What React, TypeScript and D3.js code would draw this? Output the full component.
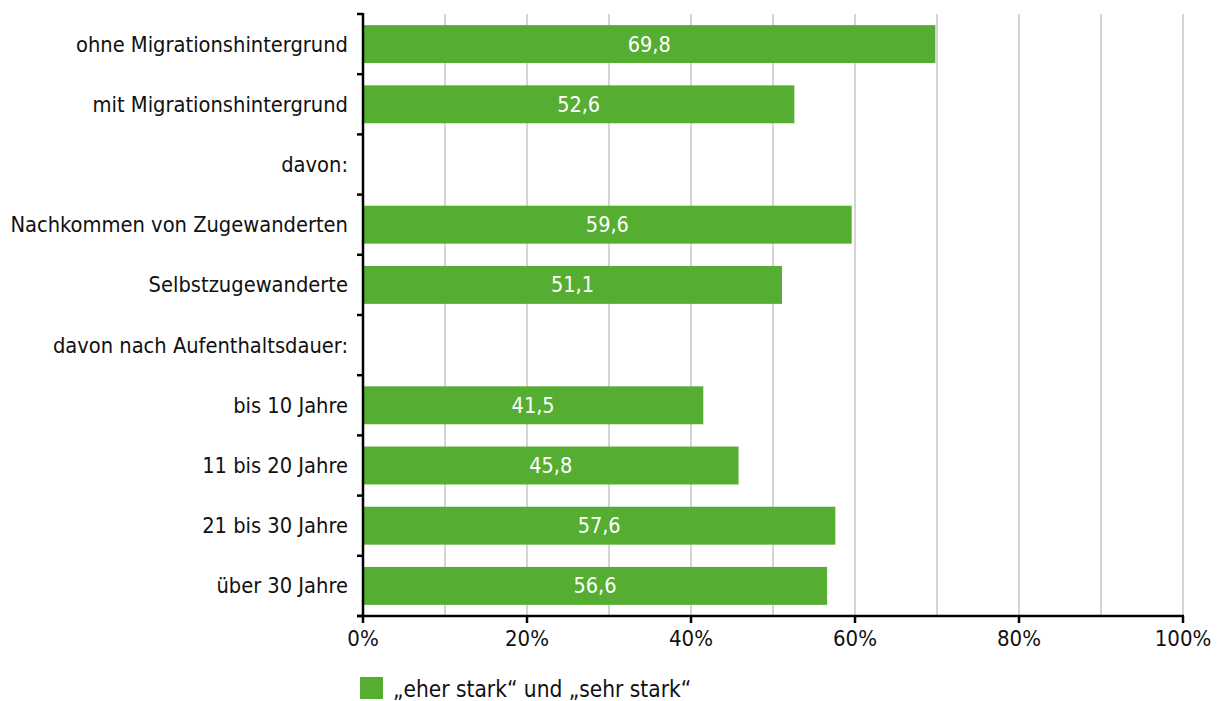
import React from "react";
import * as d3 from "d3";

const categories = [
  "ohne Migrationshintergrund",
  "mit Migrationshintergrund",
  "davon:",
  "Nachkommen von Zugewanderten",
  "Selbstzugewanderte",
  "davon nach Aufenthaltsdauer:",
  "bis 10 Jahre",
  "11 bis 20 Jahre",
  "21 bis 30 Jahre",
  "über 30 Jahre",
];
const values: (number | null)[] = [69.8, 52.6, null, 59.6, 51.1, null, 41.5, 45.8, 57.6, 56.6];
const xTicks = [0, 20, 40, 60, 80, 100];
const gridTicks = [10, 20, 30, 40, 50, 60, 70, 80, 90, 100];
const legendLabel = "„eher stark“ und „sehr stark“";

const W = 1227, H = 701;
const left = 363, right = 1183, top = 14, bottom = 616;
const green = "#55ae31";
const font = "'Liberation Sans Narrow', 'DejaVu Sans Condensed', 'Open Sans', sans-serif";

export default function App() {
  const x = d3.scaleLinear().domain([0, 100]).range([left, right]);
  const y = d3.scaleBand<string>().domain(categories).range([top, bottom]).paddingInner(0.37).paddingOuter(0.185);
  const step = y.step();
  const bw = y.bandwidth();
  const fmt = (v: number) => v.toFixed(1).replace(".", ",");
  return (
    <svg width={W} height={H} style={{ position: "absolute", left: 0, top: 0, fontFamily: font }}>
      <rect width={W} height={H} fill="#fff" />
      {gridTicks.map((t) => (
        <line key={t} x1={x(t)} x2={x(t)} y1={top} y2={bottom} stroke="#ababab" strokeWidth={1} />
      ))}
      {categories.map((c, i) => {
        const v = values[i];
        const yy = y(c)!;
        return (
          <g key={c}>
            {v !== null && (
              <>
                <rect x={x(0)} y={yy} width={x(v) - x(0)} height={bw} fill={green} />
                <text x={x(v / 2)} y={yy + bw / 2} dy="0.35em" textAnchor="middle" fill="#fff" fontSize={21.5}>
                  {fmt(v)}
                </text>
              </>
            )}
            <text x={348} y={yy + bw / 2} dy="0.35em" textAnchor="end" fill="#111" fontSize={21.7}>
              {c}
            </text>
          </g>
        );
      })}
      {d3.range(categories.length + 1).map((i) => {
        const yy = top + i * step;
        return <line key={i} x1={left - 6} x2={left} y1={yy} y2={yy} stroke="#000" strokeWidth={2.5} />;
      })}
      <line x1={left} x2={left} y1={top - 1} y2={bottom + 1} stroke="#000" strokeWidth={2.5} />
      <line x1={left - 6} x2={right + 1} y1={bottom} y2={bottom} stroke="#000" strokeWidth={2.5} />
      {xTicks.map((t) => (
        <g key={t}>
          <line x1={x(t)} x2={x(t)} y1={bottom} y2={bottom + 7} stroke="#000" strokeWidth={2.5} />
          <text x={x(t)} y={638} dy="0.35em" textAnchor="middle" fill="#111" fontSize={22}>
            {t}%
          </text>
        </g>
      ))}
      <rect x={360} y={677} width={23} height={22} fill={green} />
      <text x={393} y={689} dy="0.35em" fill="#111" fontSize={22.5}>
        {legendLabel}
      </text>
    </svg>
  );
}
